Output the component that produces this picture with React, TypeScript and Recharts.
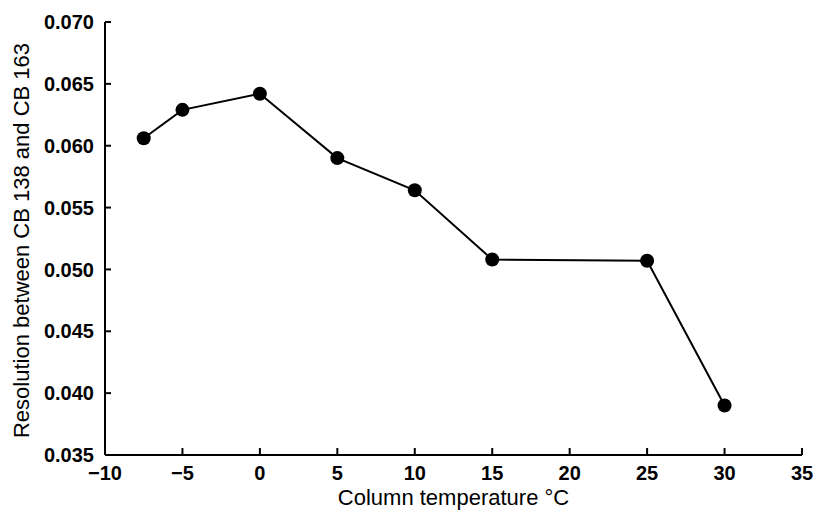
import { LineChart, Line, XAxis, YAxis } from "recharts";

// column temperature (°C) and measured resolution
const temperatures = [-7.5, -5, 0, 5, 10, 15, 25, 30];
const resolution = [0.0606, 0.0629, 0.0642, 0.059, 0.0564, 0.0508, 0.0507, 0.039];

const xTicks = [-10, -5, 0, 5, 10, 15, 20, 25, 30, 35];
const yTicks = [0.035, 0.04, 0.045, 0.05, 0.055, 0.06, 0.065, 0.07];

const data = temperatures.map((t, i) => ({ t, r: resolution[i] }));

const FONT = "'Liberation Sans', Arial, Helvetica, sans-serif";
const tickStyle = { fill: "#000", fontSize: 20, fontWeight: 700, fontFamily: FONT };

export default function App() {
  return (
    <div style={{ position: "absolute", left: 0, top: 0, background: "#fff" }}>
      <LineChart
        width={816}
        height={511}
        data={data}
        margin={{ top: 22, right: 14, bottom: 0, left: 0 }}
      >
        <XAxis
          xAxisId="bottom"
          dataKey="t"
          type="number"
          domain={[-10, 35]}
          ticks={xTicks}
          interval={0}
          tickFormatter={(v: number) => String(v).replace("-", "\u2212")}
          tick={tickStyle}
          tickSize={-7}
          tickMargin={18}
          height={56}
          stroke="#000"
          strokeWidth={2}
          label={{
            value: "Column temperature °C",
            position: "insideBottom",
            offset: 6,
            style: { fill: "#000", fontSize: 22, fontFamily: FONT },
          }}
        />
        <XAxis
          xAxisId="top"
          orientation="top"
          dataKey="t"
          type="number"
          domain={[-10, 35]}
          tick={false}
          tickLine={false}
          height={0}
          stroke="#000"
          strokeWidth={2}
        />
        <YAxis
          yAxisId="left"
          type="number"
          domain={[0.035, 0.07]}
          ticks={yTicks}
          interval={0}
          tickFormatter={(v: number) => v.toFixed(3)}
          tick={tickStyle}
          tickSize={-6}
          tickMargin={17}
          width={105}
          stroke="#000"
          strokeWidth={2}
          label={{
            content: ({ viewBox }: any) => {
              const cy = viewBox.y + viewBox.height / 2 + 2;
              return (
                <text
                  x={21}
                  y={cy}
                  transform={`rotate(-90 21 ${cy})`}
                  textAnchor="middle"
                  dominantBaseline="central"
                  fill="#000"
                  fontSize={22}
                  fontFamily={FONT}
                >
                  Resolution between CB 138 and CB 163
                </text>
              );
            },
          }}
        />
        <YAxis
          yAxisId="right"
          orientation="right"
          type="number"
          domain={[0.035, 0.07]}
          tick={false}
          tickLine={false}
          width={0}
          stroke="#000"
          strokeWidth={2}
        />
        <Line
          xAxisId="bottom"
          yAxisId="left"
          dataKey="r"
          stroke="#000"
          strokeWidth={2}
          dot={{ r: 7, fill: "#000", stroke: "#000", strokeWidth: 0 }}
          isAnimationActive={false}
        />
      </LineChart>
    </div>
  );
}
